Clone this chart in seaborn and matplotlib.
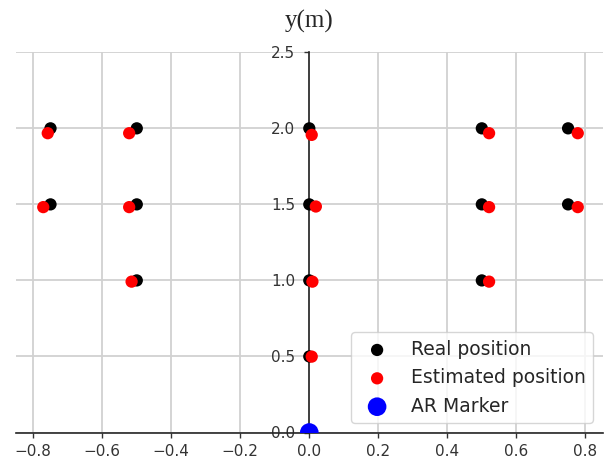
import numpy as np
import seaborn as sns
import matplotlib.pyplot as plt
import pandas as pd

# real grid positions (m)
real_x = [-0.75, -0.5, 0.0, 0.5, 0.75, -0.75, -0.5, 0.0, 0.5, 0.75, -0.5, 0.0, 0.5, 0.0]
real_y = [2.0, 2.0, 2.0, 2.0, 2.0, 1.5, 1.5, 1.5, 1.5, 1.5, 1.0, 1.0, 1.0, 0.5]

# estimated positions (m)
est_x = [-0.758, -0.522, 0.007, 0.521, 0.778, -0.771, -0.522, 0.019, 0.521, 0.778, -0.515, 0.009, 0.521, 0.007]
est_y = [1.968, 1.968, 1.957, 1.968, 1.968, 1.482, 1.482, 1.486, 1.482, 1.482, 0.992, 0.992, 0.992, 0.499]

marker_x = [0.0]
marker_y = [0.0]

df_real = pd.DataFrame({"x": real_x, "y": real_y})
df_est = pd.DataFrame({"x": est_x, "y": est_y})
df_marker = pd.DataFrame({"x": marker_x, "y": marker_y})

sns.set_style("whitegrid", {"grid.color": ".82", "axes.edgecolor": ".15",
                            "xtick.bottom": True, "ytick.left": True})

fig = plt.figure(figsize=(6.09, 4.65), dpi=100)
ax = fig.add_axes([16 / 609, 1 - 432.5 / 465, (602.6 - 16) / 609, (432.5 - 52.3) / 465])

sns.scatterplot(data=df_real, x="x", y="y", color="black", s=78, edgecolor="none",
                label="Real position", ax=ax, zorder=3)
sns.scatterplot(data=df_est, x="x", y="y", color="red", s=78, edgecolor="none",
                label="Estimated position", ax=ax, zorder=4)
sns.scatterplot(data=df_marker, x="x", y="y", color="blue", s=180, edgecolor="none",
                label="AR Marker", ax=ax, zorder=5)

ax.spines["left"].set_position("zero")
ax.spines["bottom"].set_position("zero")
ax.spines[["top", "right"]].set_visible(False)
for sp in ["left", "bottom"]:
    ax.spines[sp].set_linewidth(1.2)
    ax.spines[sp].set_zorder(2.5)

ax.set_xlim(-0.85, 0.85)
ax.set_ylim(0, 2.5)
ax.set_xticks(np.arange(-0.8, 0.81, 0.2))
ax.set_yticks(np.arange(0, 2.51, 0.5))
ax.tick_params(labelsize=11, length=3.5, width=1, colors=".2")
ax.tick_params(axis="x", pad=5)
ax.tick_params(axis="y", pad=6.5)
ax.grid(True, linewidth=1.3)
ax.set_axisbelow(True)

ax.set_xlabel("")
ax.set_ylabel("y(m)", rotation=0, fontsize=18, family="Liberation Serif",
              ha="center", va="center")
ax.yaxis.set_label_coords(0.5, 1.08)

ax.legend(loc="lower right", fontsize=13.5)

fig.savefig("out.png", dpi=100)
